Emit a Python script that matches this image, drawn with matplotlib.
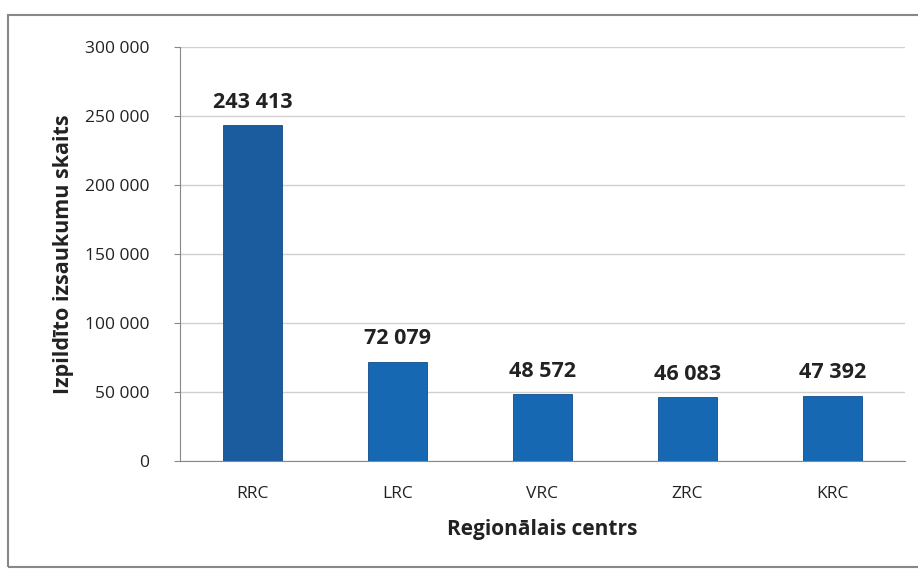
import matplotlib
matplotlib.use("Agg")
import matplotlib.pyplot as plt
from matplotlib.patches import Rectangle

plt.rcParams['font.family'] = ['Open Sans', 'DejaVu Sans']

centri = ['RRC', 'LRC', 'VRC', 'ZRC', 'KRC']
izsaukumi = [243413, 72079, 48572, 46083, 47392]
krasas = ['#1b5c9f', '#1668b3', '#1668b3', '#1668b3', '#1668b3']


def fmt(v):
    return '{:,}'.format(int(v)).replace(',', ' ')


fig = plt.figure(figsize=(9.18, 5.69), dpi=100)
ax = fig.add_axes([180 / 918, 1 - 461 / 569, 725 / 918, 414 / 569])

x = range(len(centri))
bars = ax.bar(x, izsaukumi, width=0.41, color=krasas, edgecolor='#0f4c8a', linewidth=0.6, zorder=3)

for b, v in zip(bars, izsaukumi):
    ax.text(b.get_x() + b.get_width() / 2, v + 9000, fmt(v), ha='center', va='bottom',
            fontsize=15.5, fontweight='bold', color='#222222')

ax.set_xlim(-0.5, 4.5)
ax.set_ylim(0, 300000)
ax.set_yticks(range(0, 300001, 50000))
ax.set_yticklabels([fmt(t) for t in range(0, 300001, 50000)], fontsize=12.5, color='#222222')
ax.set_xticks(list(x))
ax.set_xticklabels(centri, fontsize=12.5, color='#222222')
ax.tick_params(axis='x', length=0, pad=18)
ax.tick_params(axis='y', length=4, color='#888888', pad=18)
ax.grid(axis='y', color='#d0d0d0', linewidth=1, zorder=0)
for s in ['top', 'right']:
    ax.spines[s].set_visible(False)
ax.spines['left'].set_color('#888888')
ax.spines['bottom'].set_color('#888888')

ax.set_xlabel('Regionālais centrs', fontsize=15, fontweight='bold', color='#222222', labelpad=12)
ax.set_ylabel('Izpildīto izsaukumu skaits', fontsize=15.5, fontweight='bold', color='#222222', labelpad=8)

# frame around the chart
fig.patches.append(Rectangle((8 / 918, 2 / 569), 1.2, 1 - 17 / 569, transform=fig.transFigure,
                             fill=False, edgecolor='#888888', linewidth=1.5))

fig.savefig('out.png', dpi=100)
